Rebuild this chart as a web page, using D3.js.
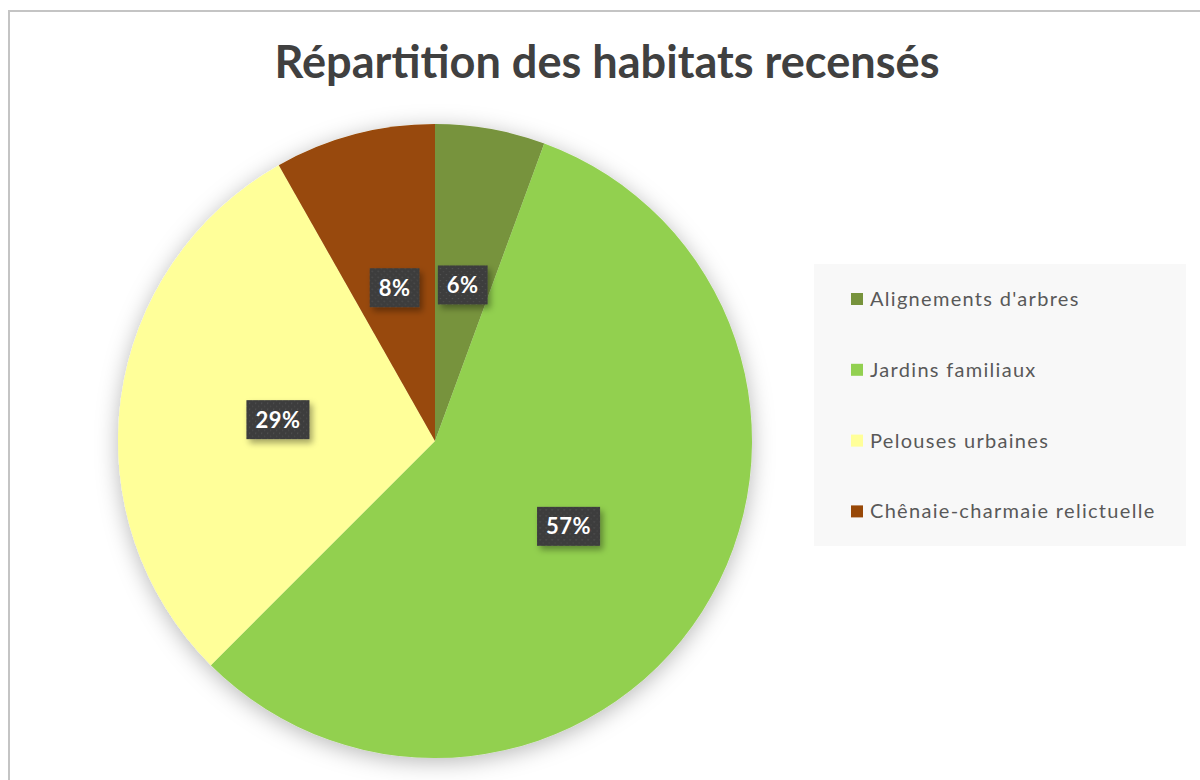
<!DOCTYPE html>
<html><head><meta charset="utf-8">
<script src="https://cdn.jsdelivr.net/npm/d3@7"></script>
<style>html,body{margin:0;padding:0;background:#fff;}svg{display:block;}</style>
</head><body>
<svg id="c" width="1200" height="780"></svg>
<script>
const categories = ["Alignements d'arbres", "Jardins familiaux", "Pelouses urbaines", "Chênaie-charmaie relictuelle"];
const values = [5.6, 56.9, 29.3, 8.2];
const labels = ["6%", "57%", "29%", "8%"];
const colors = ["#77933c", "#92d050", "#ffff99", "#984807"];
const title = "Répartition des habitats recensés";

const svg = d3.select("#c");
const defs = svg.append("defs");
const sh = defs.append("filter").attr("id","pieShadow").attr("x","-20%").attr("y","-20%").attr("width","140%").attr("height","140%");
sh.append("feDropShadow").attr("dx",0).attr("dy",4).attr("stdDeviation",11).attr("flood-color","#000").attr("flood-opacity",0.28);
const lsh = defs.append("filter").attr("id","lblShadow").attr("x","-30%").attr("y","-30%").attr("width","170%").attr("height","170%");
lsh.append("feDropShadow").attr("dx",3).attr("dy",4).attr("stdDeviation",3).attr("flood-color","#000").attr("flood-opacity",0.35);
const pat = defs.append("pattern").attr("id","dots").attr("patternUnits","userSpaceOnUse").attr("width",6).attr("height",6);
pat.append("rect").attr("width",6).attr("height",6).attr("fill","#3d3d3d");
pat.append("rect").attr("x",1).attr("y",1).attr("width",1.2).attr("height",1.2).attr("fill","#555");
pat.append("rect").attr("x",4).attr("y",4).attr("width",1.2).attr("height",1.2).attr("fill","#4c4c4c");

// frame
svg.append("rect").attr("x",9).attr("y",11).attr("width",1220).attr("height",800)
  .attr("fill","#fff").attr("stroke","#c4c4c4").attr("stroke-width",2);

// title
const tt = svg.append("text").attr("x",607).attr("y",78).attr("text-anchor","middle")
  .attr("font-family","Lato, 'Open Sans', sans-serif").attr("font-weight","bold")
  .attr("font-size",44).attr("fill","#404040").text(title);
const tw = tt.node().getComputedTextLength();
tt.attr("font-size", 44*665/tw);

const cx = 435, cy = 441, R = 317;
const pie = d3.pie().sort(null).value(d=>d)(values);
const arc = d3.arc().innerRadius(0).outerRadius(R);
const g = svg.append("g").attr("transform",`translate(${cx},${cy})`);
const sg = g.append("g").attr("filter","url(#pieShadow)");
sg.selectAll("path").data(pie).join("path").attr("d",arc).attr("fill",(d,i)=>colors[i]);

const lblArc = d3.arc().innerRadius(R*0.5).outerRadius(R*0.5);
const lg = g.selectAll("g.lbl").data(pie).join("g").attr("class","lbl")
  .attr("transform",d=>{const c=lblArc.centroid(d);return `translate(${c[0]},${c[1]})`;});
lg.each(function(d,i){
  const s = d3.select(this);
  const t = s.append("text").attr("text-anchor","middle").attr("dy","0.36em")
    .attr("font-family","Lato, 'Open Sans', sans-serif").attr("font-weight","bold")
    .attr("font-size",22).attr("letter-spacing",0.5).attr("fill","#fff").text(labels[i]);
  const w = t.node().getComputedTextLength();
  s.insert("rect","text").attr("x",-w/2-9).attr("y",-19.5).attr("width",w+18).attr("height",39)
    .attr("fill","url(#dots)").attr("filter","url(#lblShadow)");
});

// legend
svg.append("rect").attr("x",814).attr("y",264).attr("width",372).attr("height",282).attr("fill","#f8f8f8");
const leg = svg.selectAll("g.leg").data(categories).join("g").attr("class","leg")
  .attr("transform",(d,i)=>`translate(851,${299+i*70.8})`);
leg.append("rect").attr("x",0).attr("y",-6).attr("width",12).attr("height",12).attr("fill",(d,i)=>colors[i]);
leg.append("text").attr("x",19).attr("dy","0.35em").attr("font-family","Lato, 'Open Sans', sans-serif")
  .attr("font-size",20).attr("letter-spacing",1.3).attr("fill","#595959").text(d=>d);
</script>
</body></html>
